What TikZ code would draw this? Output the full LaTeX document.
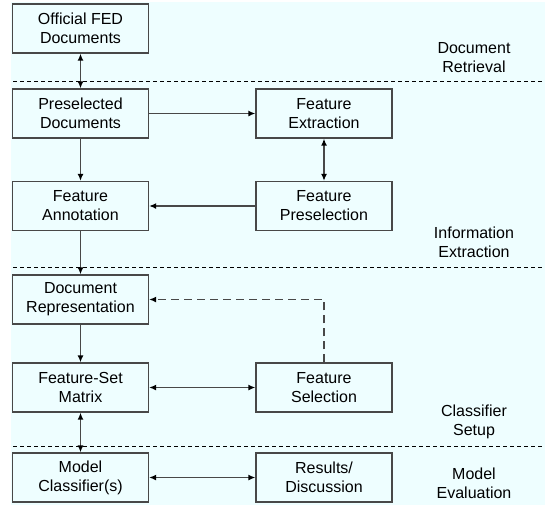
\documentclass[tikz,border=0pt]{standalone}
\usepackage{fontspec}
\setmainfont{Liberation Sans}
\usetikzlibrary{arrows.meta}
\definecolor{bgcyan}{RGB}{238,254,255}
\definecolor{linegray}{RGB}{72,72,72}
\tikzset{
  stagebox/.style={draw=linegray, line width=1.3pt, fill=bgcyan,
    minimum width=136pt, minimum height=49pt, inner sep=2pt,
    align=center, font=\fontsize{16}{19}\selectfont},
  stagelabel/.style={align=center, font=\fontsize{16}{19}\selectfont, inner sep=0pt},
  conn/.style={draw=linegray, line width=1.4pt,
    arrows={-}, >={Latex[length=7pt,width=6pt,color=black]}},
  feedback/.style={draw=linegray, line width=1.6pt, dash pattern=on 8pt off 5pt,
    >={Latex[length=7pt,width=6pt,color=black]}},
  separator/.style={draw=black, line width=0.9pt, dash pattern=on 4pt off 3pt}
}
\begin{document}
\begin{tikzpicture}[x=1pt,y=-1pt]
\useasboundingbox (0,0) rectangle (545,507);
\fill[bgcyan] (11,2) rectangle (545,505);

% separators
\draw[separator] (13,81) -- (545,81);
\draw[separator] (13,267) -- (545,267);
\draw[separator] (13,446) -- (545,446);

% boxes
\node[stagebox] (off) at (80.5,28.5) {Official FED\\Documents};
\node[stagebox] (pre) at (80.5,113.5) {Preselected\\Documents};
\node[stagebox] (fe)  at (324,113.5) {Feature\\Extraction};
\node[stagebox] (fp)  at (324,206) {Feature\\Preselection};
\node[stagebox] (fa)  at (80.5,206) {Feature\\Annotation};
\node[stagebox] (dr)  at (80.5,299.5) {Document\\Representation};
\node[stagebox] (fsm) at (80.5,387.5) {Feature-Set\\Matrix};
\node[stagebox] (fs)  at (324,387.5) {Feature\\Selection};
\node[stagebox] (mc)  at (80.5,477.5) {Model\\Classifier(s)};
\node[stagebox] (rd)  at (324,477.5) {Results/\\Discussion};

% stage labels
\node[stagelabel] (l1) at (474,57.5) {Document\\Retrieval};
\node[stagelabel] (l2) at (474,242.5) {Information\\Extraction};
\node[stagelabel] (l3) at (474,421.5) {Classifier\\Setup};
\node[stagelabel] (l4) at (474,483.5) {Model\\Evaluation};

% connectors
\draw[conn,<->] (off) -- (pre);
\draw[conn,->] (pre) -- (fe);
\draw[conn,<->] (fe) -- (fp);
\draw[conn,->] (fp) -- (fa);
\draw[conn,->] (pre) -- (fa);
\draw[conn,->] (fa) -- (dr);
\draw[conn,->] (dr) -- (fsm);
\draw[conn,<->] (fsm) -- (fs);
\draw[conn,<->] (fsm) -- (mc);
\draw[conn,<->] (mc) -- (rd);
\draw[feedback,->] (fs.north) |- (dr.east);
\end{tikzpicture}
\end{document}
